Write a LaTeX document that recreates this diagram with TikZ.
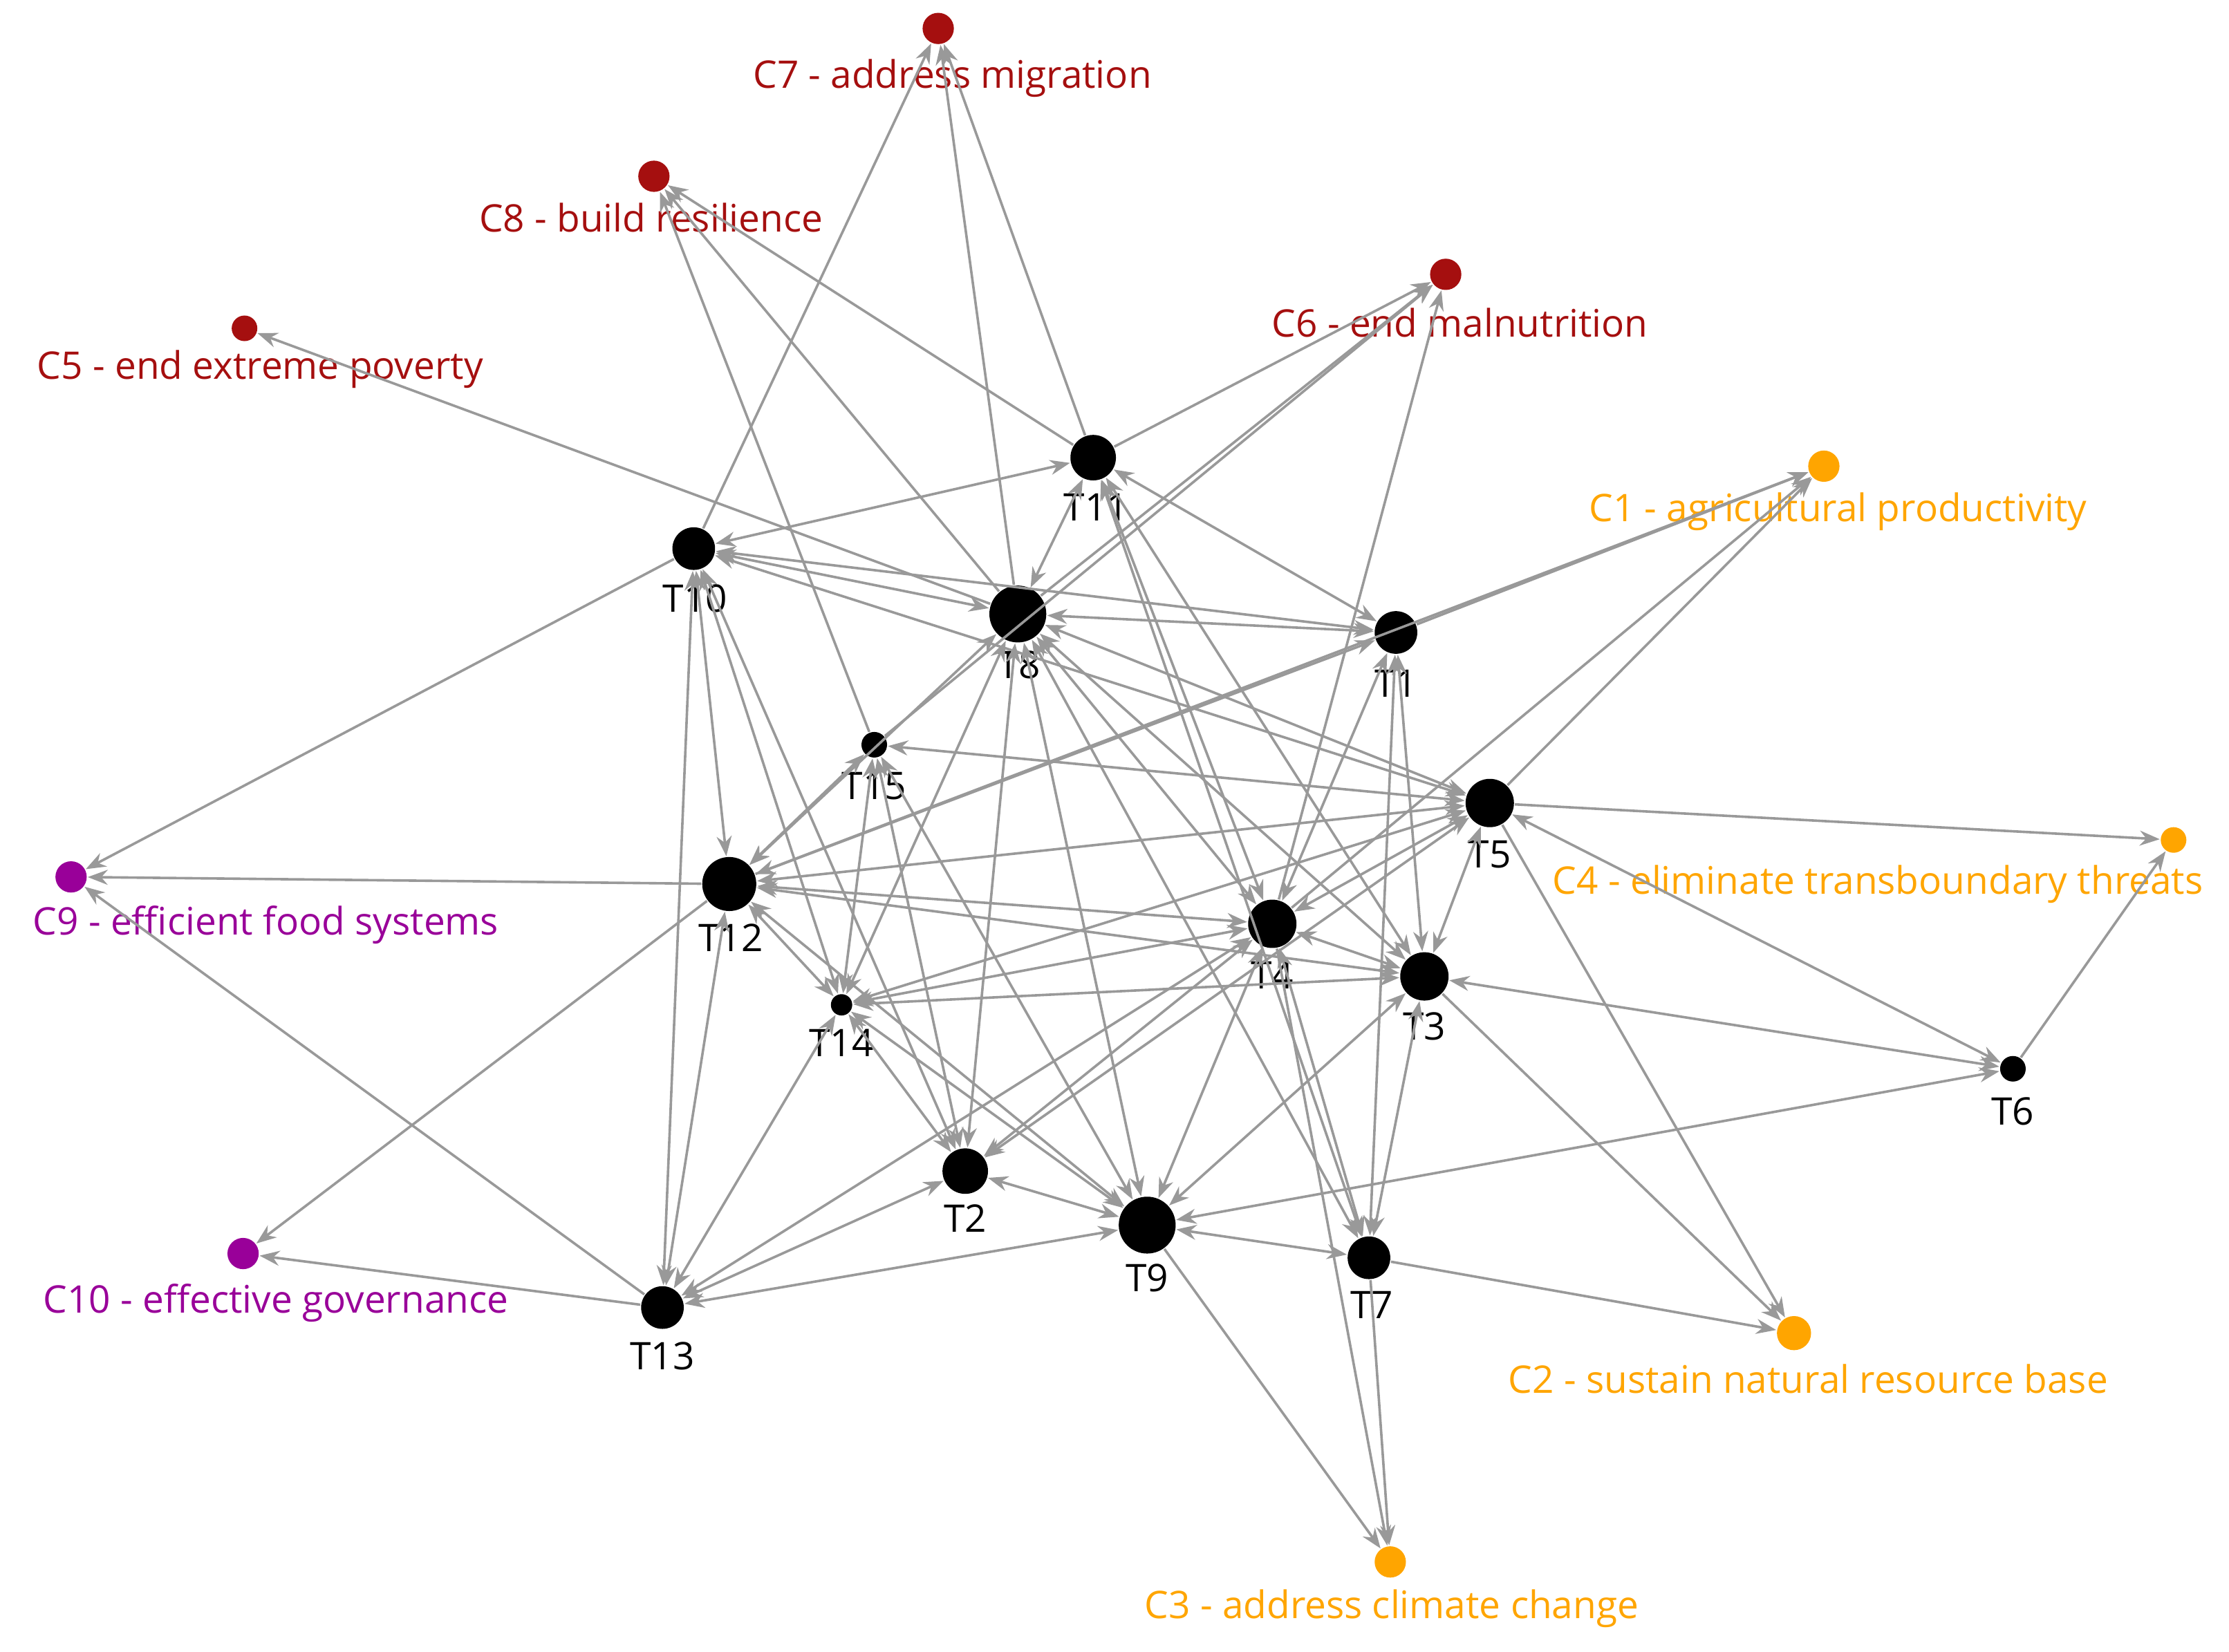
\documentclass[tikz,border=0pt]{standalone}
\usepackage{fontspec}
\setmainfont{Open Sans}
\usetikzlibrary{arrows.meta}
\definecolor{cred}{HTML}{A50F0F}
\definecolor{cor}{HTML}{FFA500}
\definecolor{cpu}{HTML}{990099}
\tikzset{
 dot/.style={circle,fill=black,inner sep=0pt,minimum size=#1*0.2845pt},
 cdot/.style={circle,inner sep=0pt,minimum size=#1*0.2845pt},
 lab/.style={font=\fontsize{7.6}{8}\selectfont,inner sep=0pt},
 edge/.style={draw=gray!80,line width=0.5pt,-{Stealth[length=4pt,width=3pt]}},
}
\begin{document}
\begin{tikzpicture}[x=0.01cm,y=-0.01cm]
\useasboundingbox (0,0) rectangle (1568,1162);
% category dots
\node[cdot=22,fill=cred] (C7) at (660,20) {};
\node[cdot=22,fill=cred] (C8) at (460,124) {};
\node[cdot=22,fill=cred] (C6) at (1017,193) {};
\node[cdot=18,fill=cred] (C5) at (172,231) {};
\node[cdot=22,fill=cor] (C1) at (1283,328) {};
\node[cdot=18,fill=cor] (C4) at (1529,591) {};
\node[cdot=22,fill=cpu] (C9) at (50,617) {};
\node[cdot=22,fill=cpu] (C10) at (171,882) {};
\node[cdot=24,fill=cor] (C2) at (1262,938) {};
\node[cdot=22,fill=cor] (C3) at (978,1099) {};
\node[lab,text=cred] at (670,55) {C7 - address migration};
\node[lab,text=cred] at (458,153) {C8 - build resilience};
\node[lab,text=cred] at (1027,227) {C6 - end malnutrition};
\node[lab,text=cred] at (183,260) {C5 - end extreme poverty};
\node[lab,text=cor] at (1293,360) {C1 - agricultural productivity};
\node[lab,text=cor] at (1321,622) {C4 - eliminate transboundary threats};
\node[lab,text=cpu] at (187,651) {C9 - efficient food systems};
\node[lab,text=cpu] at (194,917) {C10 - effective governance};
\node[lab,text=cor] at (1272,970) {C2 - sustain natural resource base};
\node[lab,text=cor] at (979,1132) {C3 - address climate change};
% T nodes
\node[dot=32] (T11) at (769,322) {};
\node[dot=30] (T10) at (488,386) {};
\node[dot=40] (T8) at (716,432) {};
\node[dot=30] (T1) at (982,445) {};
\node[dot=18] (T15) at (615,524) {};
\node[dot=34] (T5) at (1048,565) {};
\node[dot=38] (T12) at (513,622) {};
\node[dot=34] (T4) at (895,650) {};
\node[dot=34] (T3) at (1002,687) {};
\node[dot=15] (T14) at (592,707) {};
\node[dot=18] (T6) at (1416,752) {};
\node[dot=32] (T2) at (679,824) {};
\node[dot=40] (T9) at (807,862) {};
\node[dot=30] (T7) at (963,885) {};
\node[dot=30] (T13) at (466,920) {};
\foreach \n/\x/\y in {T11/771/357,T10/489/421,T8/717/468,T1/982/481,T15/615/553,T5/1048/601,T12/514/660,T4/895/686,T3/1002/722,T14/592/734,T6/1416/782,T2/679/857,T9/807/899,T7/965/918,T13/466/954}
  \node[lab] at (\x,\y) {\n};
% edges to categories
\foreach \a/\b in {T10/C7,T8/C7,T11/C7,T15/C8,T8/C8,T11/C8,T11/C6,T8/C6,T15/C6,T4/C6,T8/C5,
 T1/C1,T12/C1,T5/C1,T4/C1,T5/C4,T6/C4,T12/C9,T10/C9,T13/C9,T13/C10,T12/C10,
 T3/C2,T7/C2,T5/C2,T9/C3,T7/C3,T4/C3}
  \draw[edge] (\a) -- (\b);
% edges between topics
\foreach \a/\b in {T11/T10,T11/T8,T11/T1,T11/T4,T11/T3,T11/T7,T10/T8,T10/T1,T10/T12,T10/T14,T10/T5,T10/T2,T10/T13,
 T8/T1,T8/T5,T8/T3,T8/T4,T8/T9,T8/T2,T8/T12,T8/T14,T8/T7,T1/T4,T1/T3,T1/T7,T1/T12,
 T15/T5,T15/T12,T15/T14,T15/T9,T15/T2,T5/T12,T5/T4,T5/T3,T5/T14,T5/T2,
 T12/T4,T12/T3,T12/T9,T12/T13,T12/T14,T4/T3,T4/T2,T4/T9,T4/T13,T4/T7,T4/T14,
 T3/T9,T3/T7,T3/T6,T3/T14,T2/T9,T2/T13,T9/T7,T9/T13,T6/T9,T14/T2,T14/T9,T14/T13,T6/T5}
  \draw[edge,{Stealth[length=4pt,width=3pt]}-{Stealth[length=4pt,width=3pt]}] (\a) -- (\b);
\end{tikzpicture}
\end{document}
